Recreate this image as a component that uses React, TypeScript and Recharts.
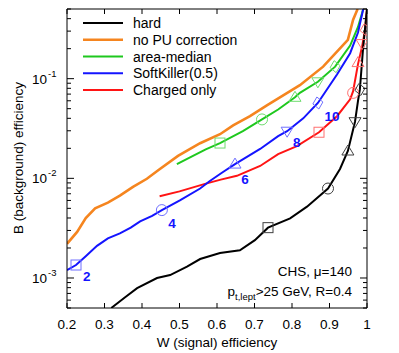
import { ComposedChart, Legend, Line, Scatter, XAxis, YAxis } from "recharts";

const FONT = "'Liberation Sans', Arial, Helvetica, sans-serif";

// W = signal efficiency, B = background efficiency
const hardW = [0.318, 0.355, 0.387, 0.44, 0.475, 0.52, 0.555, 0.608, 0.661, 0.701, 0.736, 0.795, 0.84, 0.896, 0.928, 0.949, 0.968, 0.976, 0.981, 0.989, 0.997, 1.0];
const hardB = [5.0e-4, 6.4e-4, 7.9e-4, 1.0e-3, 1.07e-3, 1.3e-3, 1.55e-3, 1.78e-3, 1.9e-3, 2.4e-3, 3.2e-3, 3.97e-3, 5.2e-3, 7.9e-3, 0.0124, 0.0188, 0.037, 0.06, 0.078, 0.19, 0.39, 0.5];

const noPuW = [0.2, 0.227, 0.25, 0.275, 0.309, 0.341, 0.376, 0.413, 0.445, 0.496, 0.555, 0.608, 0.643, 0.688, 0.733, 0.795, 0.821, 0.883, 0.949, 0.963, 0.975];
const noPuB = [2.2e-3, 2.9e-3, 4.0e-3, 5.0e-3, 5.7e-3, 6.7e-3, 8.2e-3, 9.9e-3, 0.0122, 0.0168, 0.0225, 0.0277, 0.034, 0.042, 0.054, 0.075, 0.086, 0.132, 0.245, 0.39, 0.5];

const areaW = [0.493, 0.536, 0.57, 0.608, 0.669, 0.72, 0.763, 0.808, 0.821, 0.869, 0.915, 0.955, 0.976, 0.99];
const areaB = [0.0139, 0.0168, 0.0195, 0.0226, 0.0297, 0.039, 0.049, 0.065, 0.072, 0.093, 0.132, 0.215, 0.33, 0.5];

const skW = [0.2, 0.224, 0.25, 0.28, 0.309, 0.341, 0.37, 0.395, 0.427, 0.453, 0.501, 0.555, 0.581, 0.615, 0.648, 0.715, 0.763, 0.787, 0.83, 0.869, 0.92, 0.955, 0.976, 0.99];
const skB = [1.2e-3, 1.35e-3, 1.65e-3, 2.1e-3, 2.5e-3, 2.8e-3, 3.2e-3, 3.7e-3, 4.2e-3, 4.8e-3, 6.0e-3, 7.9e-3, 9.4e-3, 0.0115, 0.0139, 0.0197, 0.0265, 0.0297, 0.04, 0.057, 0.11, 0.18, 0.29, 0.5];

const chW = [0.447, 0.5, 0.568, 0.61, 0.653, 0.715, 0.763, 0.813, 0.872, 0.92, 0.955, 0.963, 0.976, 0.987, 0.995, 1.0];
const chB = [6.6e-3, 7.4e-3, 8.8e-3, 9.7e-3, 0.0106, 0.0133, 0.0175, 0.021, 0.029, 0.042, 0.062, 0.075, 0.14, 0.21, 0.31, 0.5];

// open markers, same shape order on each curve
const SHAPES = ["square", "circle", "up", "down", "diamond"];
const hardMarkW = [0.736, 0.896, 0.949, 0.968, 0.981];
const hardMarkB = [3.2e-3, 7.9e-3, 0.0188, 0.037, 0.078];
const areaMarkW = [0.608, 0.72, 0.808, 0.869, 0.915];
const areaMarkB = [0.0226, 0.039, 0.065, 0.093, 0.132];
const skMarkW = [0.224, 0.453, 0.648, 0.787, 0.869];
const skMarkB = [1.35e-3, 4.8e-3, 0.0139, 0.0297, 0.057];
const chMarkW = [0.872, 0.963, 0.976, 0.987, 0.995];
const chMarkB = [0.029, 0.072, 0.145, 0.225, 0.31];

// SoftKiller parameter labels
const skLabels = ["2", "4", "6", "8", "10"];
const skLabelW = [0.253, 0.48, 0.675, 0.8125, 0.907];
const skLabelB = [1.05e-3, 3.55e-3, 9.9e-3, 0.0229, 0.042];

const xTicks = [0.2, 0.3, 0.4, 0.5, 0.6, 0.7, 0.8, 0.9, 1];
const yTicks = [
  5e-4, 6e-4, 7e-4, 8e-4, 9e-4,
  1e-3, 2e-3, 3e-3, 4e-3, 5e-3, 6e-3, 7e-3, 8e-3, 9e-3,
  1e-2, 2e-2, 3e-2, 4e-2, 5e-2, 6e-2, 7e-2, 8e-2, 9e-2,
  1e-1, 2e-1, 3e-1, 4e-1, 5e-1,
];

const legendItems = [
  { name: "hard", color: "#000000", width: 2 },
  { name: "no PU correction", color: "#f5851f", width: 2.6 },
  { name: "area-median", color: "#1ec81e", width: 2 },
  { name: "SoftKiller(0.5)", color: "#1414ff", width: 2 },
  { name: "Charged only", color: "#ff1414", width: 2 },
];

const pts = (w: number[], b: number[]) => w.map((x, i) => ({ w: x, b: b[i] }));
const marks = (w: number[], b: number[]) => w.map((x, i) => ({ w: x, b: b[i], shape: SHAPES[i] }));

function markerShape(color: string) {
  return (props: any) => {
    const { cx, cy, payload } = props;
    const common = { fill: "none", stroke: color, strokeWidth: 1 };
    switch (payload.shape) {
      case "square":
        return <rect x={cx - 5} y={cy - 5} width={10} height={10} {...common} />;
      case "circle":
        return <circle cx={cx} cy={cy} r={5.5} {...common} />;
      case "up":
        return <polygon points={`${cx},${cy - 6} ${cx - 6},${cy + 4} ${cx + 6},${cy + 4}`} {...common} />;
      case "down":
        return <polygon points={`${cx},${cy + 6} ${cx - 6},${cy - 4} ${cx + 6},${cy - 4}`} {...common} />;
      default:
        return <polygon points={`${cx - 1},${cy - 6} ${cx + 5},${cy - 1} ${cx + 1},${cy + 6} ${cx - 5},${cy + 1}`} {...common} />;
    }
  };
}

function numberLabel(props: any) {
  const { cx, cy, payload } = props;
  return (
    <text x={cx} y={cy + 5} textAnchor="middle" fill="#1414ff" fontSize={13.5} fontWeight="bold" fontFamily={FONT}>
      {payload.label}
    </text>
  );
}

function XTick(props: any) {
  const { x, y, payload, side } = props;
  const dir = side === "bottom" ? -1 : 1;
  return (
    <g>
      <line x1={x} x2={x} y1={y} y2={y + dir * 5} stroke="#000" />
      {side === "bottom" && (
        <text x={x} y={y + 21} textAnchor="middle" fontSize={13.5} fill="#000" fontFamily={FONT}>
          {String(payload.value)}
        </text>
      )}
    </g>
  );
}

function YTick(props: any) {
  const { x, y, payload, side } = props;
  const e = Math.log10(payload.value);
  const major = Math.abs(e - Math.round(e)) < 1e-6;
  const len = major ? 7 : 4;
  const dir = side === "left" ? 1 : -1;
  return (
    <g>
      <line x1={x} x2={x + dir * len} y1={y} y2={y} stroke="#000" />
      {major && side === "left" && (
        <g fontFamily={FONT} fill="#000">
          <text x={x - 20} y={y + 5} textAnchor="end" fontSize={13.5}>10</text>
          <text x={x - 19} y={y - 2} textAnchor="start" fontSize={9.5}>{String(Math.round(e))}</text>
        </g>
      )}
    </g>
  );
}

function LegendBox() {
  return (
    <svg width={220} height={86} style={{ display: "block" }}>
      {legendItems.map((it, i) => {
        const cy = 8 + i * 16.75;
        return (
          <g key={it.name}>
            <line x1={0} x2={40} y1={cy} y2={cy} stroke={it.color} strokeWidth={it.width} />
            <text x={50} y={cy + 5} fontSize={14} fill="#000" fontFamily={FONT}>{it.name}</text>
          </g>
        );
      })}
    </svg>
  );
}

export default function App() {
  return (
    <div style={{ position: "relative", width: 391, height: 345, fontFamily: FONT }}>
      <ComposedChart width={391} height={345} margin={{ top: 0, right: 31, bottom: 0, left: 0 }}>
        <XAxis
          xAxisId="b"
          dataKey="w"
          type="number"
          domain={[0.2, 1]}
          allowDataOverflow
          ticks={xTicks}
          interval={0}
          height={45}
          tickSize={0}
          tickMargin={0}
          tickLine={false}
          axisLine={{ stroke: "#000" }}
          tick={<XTick side="bottom" />}
          label={{
            content: () => (
              <text x={209} y={339} textAnchor="middle" fontSize={13.5} fill="#000" fontFamily={FONT}>
                W (signal) efficiency
              </text>
            ),
          }}
        />
        <XAxis
          xAxisId="t"
          orientation="top"
          dataKey="w"
          type="number"
          domain={[0.2, 1]}
          allowDataOverflow
          ticks={xTicks}
          interval={0}
          height={1}
          tickSize={0}
          tickMargin={0}
          tickLine={false}
          axisLine={{ stroke: "#000" }}
          tick={<XTick side="top" />}
        />
        <YAxis
          yAxisId="l"
          type="number"
          scale="log"
          domain={[5e-4, 0.5]}
          allowDataOverflow
          ticks={yTicks}
          interval={0}
          width={59}
          tickSize={0}
          tickMargin={0}
          tickLine={false}
          axisLine={{ stroke: "#000" }}
          tick={<YTick side="left" />}
          label={{
            content: () => (
              <text
                x={15}
                y={150}
                transform="rotate(-90 15 150)"
                textAnchor="middle"
                fontSize={13.5}
                fill="#000"
                fontFamily={FONT}
              >
                B (background) efficiency
              </text>
            ),
          }}
        />
        <YAxis
          yAxisId="r"
          orientation="right"
          type="number"
          scale="log"
          domain={[5e-4, 0.5]}
          allowDataOverflow
          ticks={yTicks}
          interval={0}
          width={1}
          tickSize={0}
          tickMargin={0}
          tickLine={false}
          axisLine={{ stroke: "#000" }}
          tick={<YTick side="right" />}
        />
        <Legend
          layout="vertical"
          align="center"
          verticalAlign="middle"
          wrapperStyle={{ left: 75, top: 7, width: 220, height: 86 }}
          content={() => <LegendBox />}
        />
        <Line xAxisId="b" yAxisId="l" data={pts(noPuW, noPuB)} dataKey="b" stroke="#f5851f" strokeWidth={2.6} dot={false} isAnimationActive={false} />
        <Line xAxisId="b" yAxisId="l" data={pts(areaW, areaB)} dataKey="b" stroke="#1ec81e" strokeWidth={2} dot={false} isAnimationActive={false} />
        <Line xAxisId="b" yAxisId="l" data={pts(chW, chB)} dataKey="b" stroke="#ff1414" strokeWidth={2} dot={false} isAnimationActive={false} />
        <Line xAxisId="b" yAxisId="l" data={pts(skW, skB)} dataKey="b" stroke="#1414ff" strokeWidth={2} dot={false} isAnimationActive={false} />
        <Line xAxisId="b" yAxisId="l" data={pts(hardW, hardB)} dataKey="b" stroke="#000000" strokeWidth={2} dot={false} isAnimationActive={false} />
        <Scatter xAxisId="b" yAxisId="l" data={marks(areaMarkW, areaMarkB)} dataKey="b" shape={markerShape("#6fdc6f")} isAnimationActive={false} />
        <Scatter xAxisId="b" yAxisId="l" data={marks(chMarkW, chMarkB)} dataKey="b" shape={markerShape("#ff7070")} isAnimationActive={false} />
        <Scatter xAxisId="b" yAxisId="l" data={marks(skMarkW, skMarkB)} dataKey="b" shape={markerShape("#7070ff")} isAnimationActive={false} />
        <Scatter xAxisId="b" yAxisId="l" data={marks(hardMarkW, hardMarkB)} dataKey="b" shape={markerShape("#404040")} isAnimationActive={false} />
        <Scatter
          xAxisId="b"
          yAxisId="l"
          data={skLabelW.map((w, i) => ({ w, b: skLabelB[i], label: skLabels[i] }))}
          dataKey="b"
          shape={numberLabel}
          isAnimationActive={false}
        />
      </ComposedChart>
      <svg width={391} height={345} style={{ position: "absolute", left: 0, top: 0, pointerEvents: "none" }}>
        <text x={344} y={268} textAnchor="end" fontSize={13.5} fill="#000" fontFamily={FONT}>
          CHS, μ=140
        </text>
        <text x={344} y={288} textAnchor="end" fontSize={13.5} fill="#000" fontFamily={FONT}>
          p<tspan fontSize={9.5} dy={4}>t,lept</tspan>
          <tspan dy={-4}>&gt;25 GeV, R=0.4</tspan>
        </text>
      </svg>
    </div>
  );
}
